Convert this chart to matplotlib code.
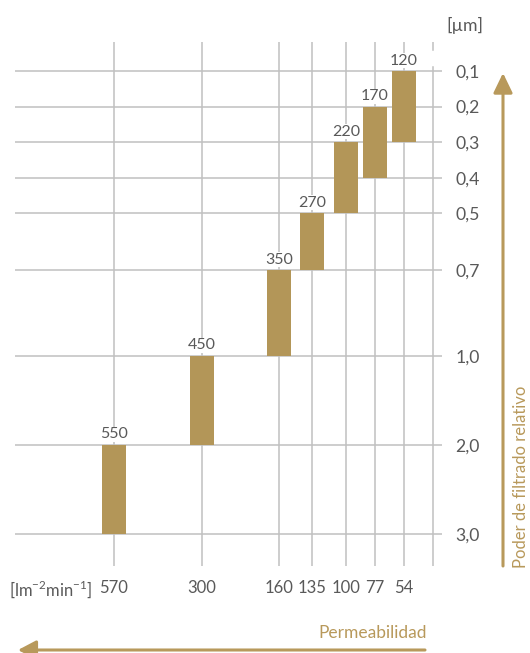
import matplotlib

matplotlib.use("Agg")
import matplotlib.pyplot as plt
from matplotlib.patches import FancyArrowPatch

# data
permeability = ["570", "300", "160", "135", "100", "77", "54"]
retention = [550, 450, 350, 270, 220, 170, 120]
pore_top = [2.0, 1.0, 0.7, 0.5, 0.3, 0.2, 0.1]
pore_bottom = [3.0, 2.0, 1.0, 0.7, 0.5, 0.4, 0.3]
pore_levels = [0.1, 0.2, 0.3, 0.4, 0.5, 0.7, 1.0, 2.0, 3.0]

# layout: where each category / level sits on the (non-linear) chart grid
x_slots = [99, 187, 264, 297, 331, 360, 389]
x_extra_line = 418
level_slots = [0, 1, 2, 3, 4, 5.6, 8, 10.5, 13]

GOLD = "#B39658"
ARROW = "#B8995B"
TEXT = "#595959"
GRID = "#C0C0C0"

plt.rcParams["font.family"] = ["Lato", "DejaVu Sans"]
plt.rcParams["mathtext.fontset"] = "custom"
plt.rcParams["mathtext.rm"] = "Lato"

W, H = 530, 653
fig = plt.figure(figsize=(W / 100, H / 100), dpi=100)


def fx(px):
    return px / W


def fy(py):
    return 1 - py / H


ax = fig.add_axes([fx(15), fy(566), fx(442) - fx(15), fy(42) - fy(566)])
ax.set_xlim(0, 427)
ax.set_ylim((566 - 71) / 35.6, (42 - 71) / 35.6)
for s in ax.spines.values():
    s.set_visible(False)

slot_of = dict(zip(pore_levels, level_slots))

for y in level_slots:
    ax.axhline(y, color=GRID, lw=1.1, zorder=1)
for x in x_slots:
    ax.axvline(x, color=GRID, lw=1.1, zorder=1)
# last grid line has a small break near the top
ax.axvline(x_extra_line, ymin=0, ymax=1 - 25 / 524, color=GRID, lw=1.1, zorder=1)
ax.axvline(x_extra_line, ymin=1 - 8 / 524, ymax=1, color=GRID, lw=1.1, zorder=1)

tops = [slot_of[v] for v in pore_top]
bottoms = [slot_of[v] for v in pore_bottom]
heights = [b - t for t, b in zip(tops, bottoms)]
ax.bar(x_slots, heights, bottom=tops, width=24, color=GOLD, zorder=3)

for x, t, r in zip(x_slots, tops, retention):
    ax.annotate(
        str(r), (x, t), xytext=(0, 2.5), textcoords="offset points",
        ha="center", va="bottom", fontsize=11.5, color=TEXT, zorder=4,
        bbox=dict(fc="white", ec="none", pad=0.3),
    )

ax.yaxis.tick_right()
ax.set_yticks(level_slots, [f"{v:.1f}".replace(".", ",") for v in pore_levels])
ax.tick_params(axis="y", length=0, pad=9.5, labelsize=12.7, labelcolor=TEXT)
ax.set_xticks(x_slots, permeability)
ax.tick_params(axis="x", length=0, pad=10, labelsize=12, labelcolor=TEXT)

fig.text(fx(9), fy(589), r"[lm$^{\mathregular{-2}}$min$^{\mathregular{-1}}$]",
         ha="left", va="center", fontsize=12, color=TEXT)
fig.text(fx(465), fy(25), "[µm]", ha="center", va="center", fontsize=12.7, color=TEXT)

fig.text(fx(427), fy(633), "Permeabilidad", ha="right", va="center",
         fontsize=12.5, color=ARROW)
fig.text(fx(521), fy(568), "Poder de filtrado relativo", ha="center", va="bottom",
         rotation=90, fontsize=12, color=ARROW)

fig.add_artist(FancyArrowPatch(
    (fx(425), fy(650)), (fx(18), fy(650)), transform=fig.transFigure,
    arrowstyle="-|>,head_length=11,head_width=5.8", mutation_scale=1,
    shrinkA=0, shrinkB=0, lw=2.2, color=ARROW,
))
fig.add_artist(FancyArrowPatch(
    (fx(503), fy(566)), (fx(503), fy(73)), transform=fig.transFigure,
    arrowstyle="-|>,head_length=12,head_width=5.8", mutation_scale=1,
    shrinkA=0, shrinkB=0, lw=2.2, color=ARROW,
))

fig.savefig("out.png", dpi=100, facecolor="white")
